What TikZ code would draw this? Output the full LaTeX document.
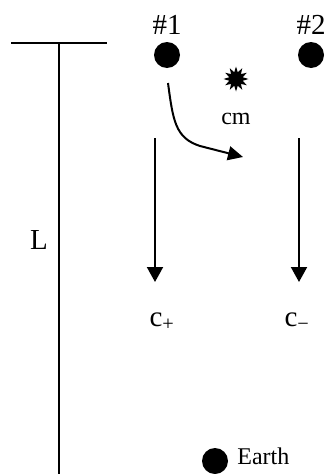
\documentclass[tikz,border=0pt]{standalone}
\usepackage{fontspec}
\setmainfont{Liberation Serif}
\usetikzlibrary{shapes.geometric, arrows.meta, positioning}
\tikzset{
  dot/.style       = {circle, fill=black, inner sep=0pt, minimum size=26pt},
  burst/.style     = {star, star points=12, star point ratio=1.8, fill=black,
                      inner sep=0pt, minimum size=25pt},
  biglabel/.style  = {inner sep=0pt, font=\fontsize{29}{30}\selectfont},
  smalllabel/.style= {inner sep=0pt, font=\fontsize{24}{26}\selectfont},
  axis/.style      = {line width=2pt},
  arrow/.style     = {line width=2pt, -{Triangle[length=15pt,width=16pt]}}
}

\begin{document}
\begin{tikzpicture}[x=1pt, y=-1pt]
  \useasboundingbox (0,0) rectangle (328,474);

  % Baseline of length L
  \coordinate (left)  at (11,43);
  \coordinate (right) at (107,43);
  \coordinate (top)   at (59,43);
  \coordinate (foot)  at (59,474);
  \node (L) [biglabel, anchor=east] at (48,240) {L};

  % Particles and centre of mass
  \node (p1)  [dot] at (167,55) {};
  \node (p2)  [dot] at (311,55) {};
  \node (n1)  [biglabel, above=7pt of p1] {\#1};
  \node (n2)  [biglabel, above=7pt of p2] {\#2};
  \node (cm)  [burst] at (236,79) {};
  \node (cmlabel) [smalllabel, below=21pt of cm] {cm};

  % Light paths
  \coordinate (a1) at (155,138);
  \coordinate (b1) at (155,282);
  \coordinate (a2) at (299,138);
  \coordinate (b2) at (299,282);
  \node (cplus)  [biglabel, below=31pt of b1, xshift=7pt]  {c\textsubscript{+}};
  \node (cminus) [biglabel, below=31pt of b2, xshift=-2pt] {c\textsubscript{−}};

  % Drift of #1
  \coordinate (s) at (168,83);
  \coordinate (e) at (243,157);

  % Earth
  \node (earth) [dot] at (215,461) {};
  \node (earthlabel) [smalllabel, right=9pt of earth, yshift=5pt] {Earth};

  % Lines and arrows
  \draw[axis]  (left) -- (right);
  \draw[axis]  (top)  -- (foot);
  \draw[arrow] (a1) -- (b1);
  \draw[arrow] (a2) -- (b2);
  \draw[arrow, -{Triangle[length=15pt,width=14pt]}]
    (s) .. controls (173,120) and (175,138) .. (200,146) -- (e);
\end{tikzpicture}
\end{document}
